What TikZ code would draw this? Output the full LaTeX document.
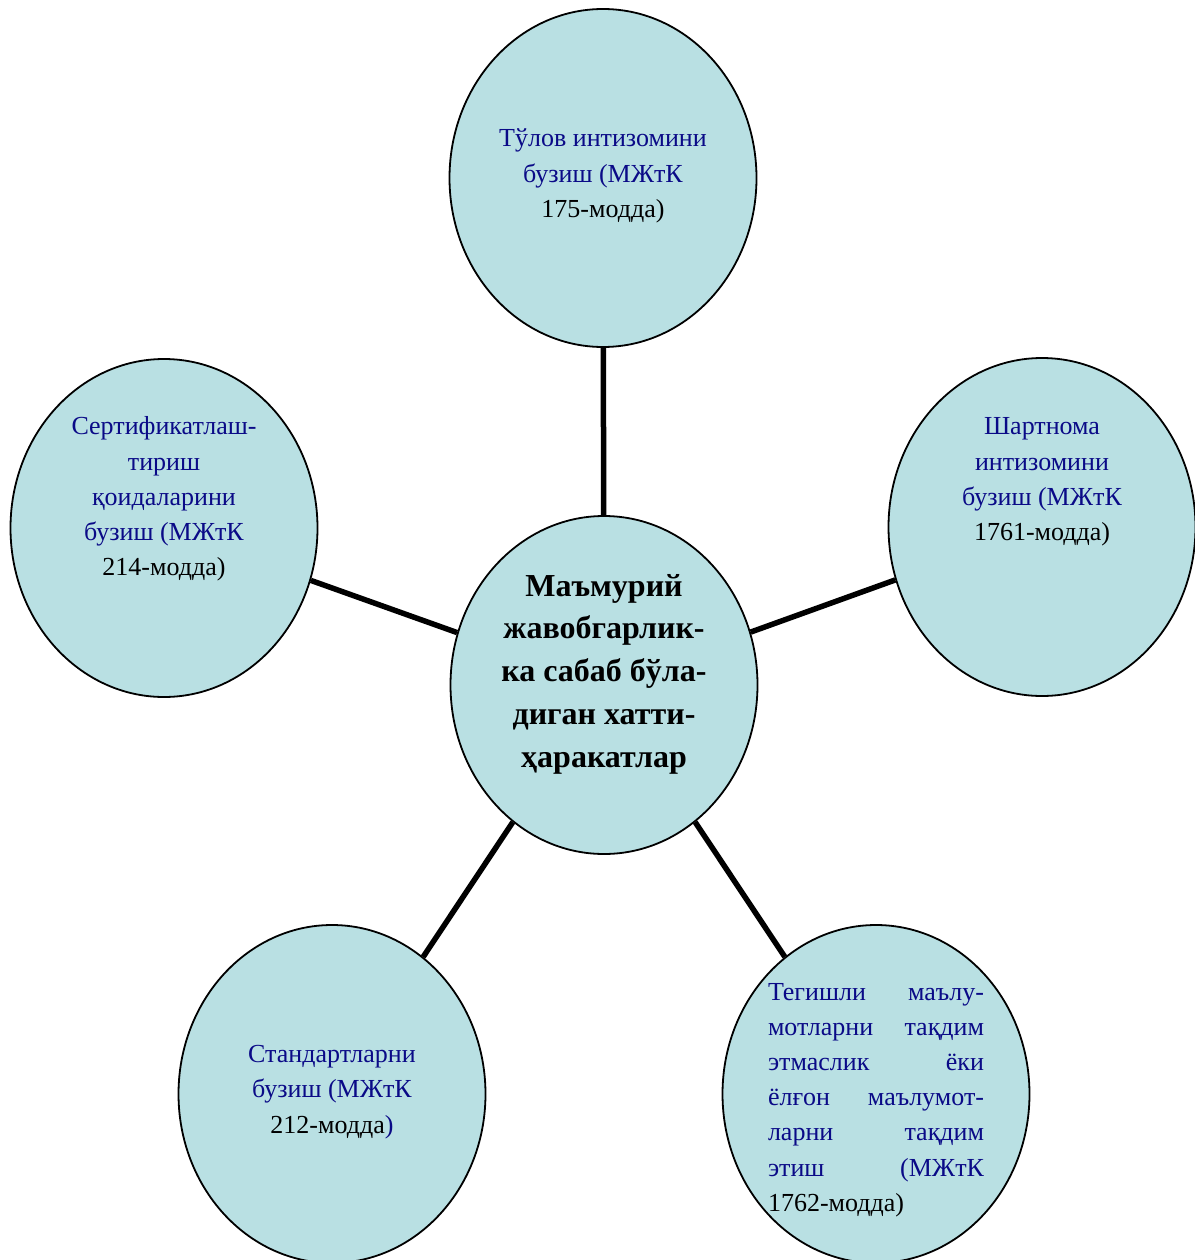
\documentclass[tikz,border=0pt]{standalone}
\usepackage{fontspec}
\setmainfont{Liberation Serif}
\usetikzlibrary{shapes.geometric,positioning}
\definecolor{bubblefill}{RGB}{185,224,227}
\definecolor{navytext}{RGB}{10,10,135}

\begin{document}
\begin{tikzpicture}
      [x=1pt, y=-1pt,
      bubble/.style={ellipse, draw, line width=1.8pt, fill=bubblefill,
        minimum width=307pt, minimum height=338pt, inner sep=0pt},
      caption/.style={align=center, text=navytext,
        font=\fontsize{26}{35.2}\selectfont},
      link/.style={line width=5.5pt}]

      \useasboundingbox (0,0) rectangle (1194,1260);

      \node [bubble] (hub)      at (604,685)  {};
      \node [bubble] (pay)      at (603,178)  {};
      \node [bubble] (contract) at (1042,527) {};
      \node [bubble] (cert)     at (164,528)  {};
      \node [bubble] (standard) at (332,1094) {};
      \node [bubble] (info)     at (876,1094) {};

      \draw [link] (hub) -- (pay);
      \draw [link] (hub) -- (contract);
      \draw [link] (hub) -- (cert);
      \draw [link] (hub) -- (standard);
      \draw [link] (hub) -- (info);

      \node [align=center, font=\fontsize{32}{42.7}\selectfont\bfseries]
        (hubtext) at ([yshift=11pt]hub.center)
        {Маъмурий\\жавобгарлик-\\ка сабаб бўла-\\диган хатти-\\ҳаракатлар};
      \node [caption] (paytext) at ([yshift=2pt]pay.center)
        {Тўлов интизомини\\бузиш (МЖтК\\\textcolor{black}{175-модда)}};
      \node [caption] (contracttext) at ([yshift=45pt]contract.center)
        {Шартнома\\интизомини\\бузиш (МЖтК\\\textcolor{black}{1761-модда)}};
      \node [caption] (certtext) at ([yshift=29pt]cert.center)
        {Сертификатлаш-\\тириш\\қоидаларини\\бузиш (МЖтК\\\textcolor{black}{214-модда)}};
      \node [caption] (standardtext) at ([yshift=2pt]standard.center)
        {Стандартларни\\бузиш (МЖтК\\\textcolor{black}{212-модда})};
      \node [caption, align=left, text width=216pt] (infotext)
        at ([yshift=-6pt]info.center)
        {Тегишли\hfill маълу-\\мотларни\hfill тақдим\\этмаслик\hfill ёки\\
         ёлғон\hfill маълумот-\\ларни\hfill тақдим\\этиш\hfill (МЖтК\\
         \textcolor{black}{1762-модда)}};
\end{tikzpicture}
\end{document}
